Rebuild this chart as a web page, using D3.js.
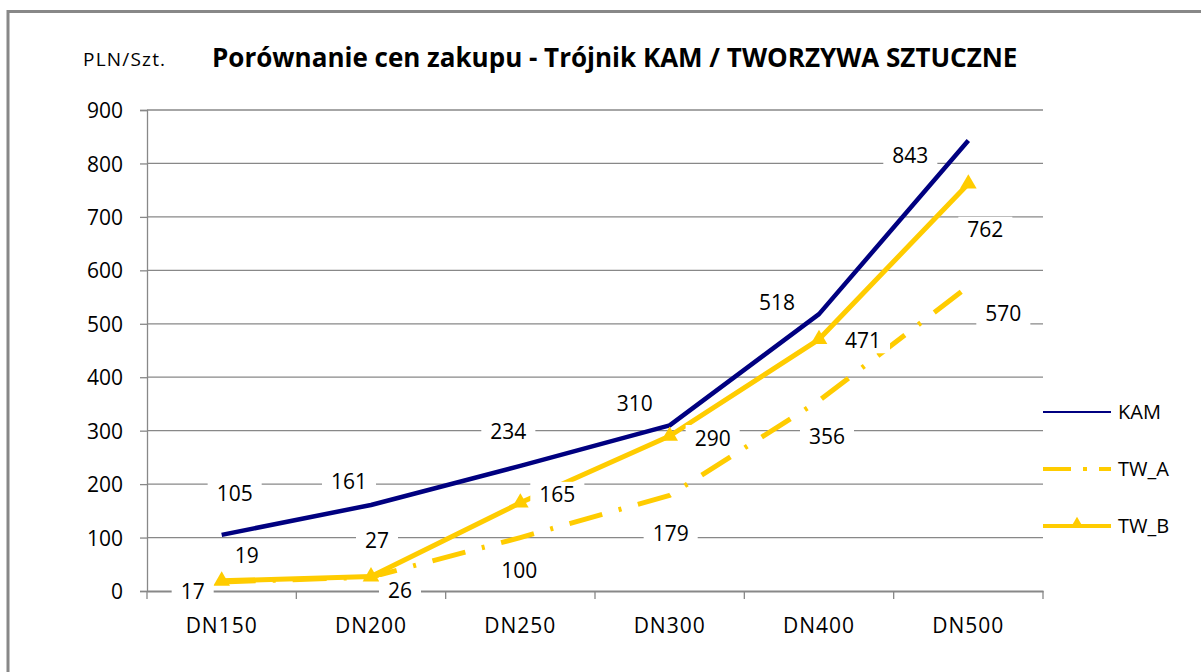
<!DOCTYPE html>
<html lang="pl">
<head>
  <meta charset="UTF-8">
  <title>Porównanie cen zakupu - Trójnik KAM / TWORZYWA SZTUCZNE</title>
  <style>
    body { margin: 0; background: #fff; }
    svg text { font-family: "Open Sans", sans-serif; fill: #000; }
    .grid line { stroke: #888; stroke-width: 1.3px; }
  </style>
</head>
<body>
<div id="chart"></div>
<script src="https://d3js.org/d3.v7.min.js"></script>
<script>
  // dane
  const categories = ["DN150", "DN200", "DN250", "DN300", "DN400", "DN500"];
  const kam  = [105, 161, 234, 310, 518, 843];
  const twA  = [17, 26, 100, 179, 356, 570];
  const twB  = [19, 27, 165, 290, 471, 762];
  const yTicks = [0, 100, 200, 300, 400, 500, 600, 700, 800, 900];

  // przesunięcia etykiet danych względem punktów (px)
  const labelOffsets = {
    KAM:  [[13, -41], [-22, -24], [-12, -35], [-35, -22], [-42, -12], [-58, 15]],
    TW_A: [[-29, 10], [29, 13], [-1, 33], [1, 38], [8, 36], [35, 27]],
    TW_B: [[25, -25], [6, -36], [37, -8], [43, 2], [44, 1], [17, 46]]
  };

  const width = 1201, height = 672;
  const series = [
    { name: "KAM",  values: kam, color: "#000080", width: 4.5, dash: null, marker: false },
    { name: "TW_A", values: twA, color: "#FFCC00", width: 5, dash: "34 17 3 17", marker: false },
    { name: "TW_B", values: twB, color: "#FFCC00", width: 5, dash: null, marker: true }
  ];

  const svg = d3.select("#chart").append("svg")
      .attr("width", width)
      .attr("height", height);

  // ramka wykresu
  svg.append("rect")
      .attr("x", 8).attr("y", 11.5)
      .attr("width", 1250).attr("height", 700)
      .attr("fill", "#fff")
      .attr("stroke", "#888")
      .attr("stroke-width", 3);

  const x = d3.scaleBand().domain(categories).range([147, 1043]);
  const y = d3.scaleLinear().domain([0, 900]).range([591, 110]);
  const cx = c => x(c) + x.bandwidth() / 2;

  // siatka
  svg.append("g").attr("class", "grid")
    .selectAll("line").data(yTicks.filter(d => d > 0)).join("line")
      .attr("x1", 147).attr("x2", 1043)
      .attr("y1", d => y(d)).attr("y2", d => y(d));

  // oś Y
  const yAxis = svg.append("g")
      .attr("transform", "translate(147,0)")
      .call(d3.axisLeft(y).tickValues(yTicks).tickSize(7).tickPadding(17));
  yAxis.select(".domain").attr("stroke", "#888").attr("stroke-width", 1.3);
  yAxis.selectAll(".tick line").attr("stroke", "#888").attr("stroke-width", 1.3);
  yAxis.selectAll("text").style("font-size", "21px").attr("dy", "0.36em");

  // oś X
  const xAxis = svg.append("g")
      .attr("transform", "translate(0,591)")
      .call(d3.axisBottom(x).tickSize(0).tickPadding(27));
  xAxis.select(".domain").attr("stroke", "#888").attr("stroke-width", 2);
  xAxis.selectAll("text").style("font-size", "21px").style("letter-spacing", "1px");
  xAxis.selectAll(".sep").data(categories.concat([null])).join("line")
      .attr("class", "sep")
      .attr("x1", (d, i) => i < categories.length ? x(d) : x.range()[1])
      .attr("x2", (d, i) => i < categories.length ? x(d) : x.range()[1])
      .attr("y1", 0).attr("y2", 8)
      .attr("stroke", "#888").attr("stroke-width", 1.3);

  // linie serii
  const line = d3.line()
      .x((d, i) => cx(categories[i]))
      .y(d => y(d));

  const tri = d3.symbol().type(d3.symbolTriangle).size(120);

  series.forEach(s => {
    svg.append("path")
        .datum(s.values)
        .attr("d", line)
        .attr("fill", "none")
        .attr("stroke", s.color)
        .attr("stroke-width", s.width)
        .attr("stroke-dasharray", s.dash)
        .attr("stroke-linejoin", "round");
    if (s.marker) {
      svg.selectAll(".m-" + s.name).data(s.values).join("path")
          .attr("class", "m-" + s.name)
          .attr("d", tri)
          .attr("transform", (d, i) => `translate(${cx(categories[i])},${y(d)})`)
          .attr("fill", s.color);
    }
  });

  // etykiety danych (białe tło)
  series.forEach(s => {
    s.values.forEach((v, i) => {
      const off = labelOffsets[s.name][i];
      const g = svg.append("g")
          .attr("transform", `translate(${cx(categories[i]) + off[0]},${y(v) + off[1]})`);
      const r = g.append("rect").attr("fill", "#fff");
      const t = g.append("text")
          .attr("text-anchor", "middle")
          .attr("dy", "0.36em")
          .style("font-size", "21px")
          .text(v);
      const bb = t.node().getBBox();
      r.attr("x", bb.x - 9).attr("y", -13)
       .attr("width", bb.width + 18).attr("height", 26);
    });
  });

  // tytuł
  svg.append("text")
      .attr("x", 83).attr("y", 66)
      .style("font-size", "19px")
      .style("letter-spacing", "1.2px")
      .text("PLN/Szt.");
  svg.append("text")
      .attr("x", 212).attr("y", 67)
      .style("font-size", "26px")
      .style("font-weight", "bold")
      .text("Porównanie cen zakupu - Trójnik KAM / TWORZYWA SZTUCZNE");

  // legenda
  const legend = svg.append("g").attr("transform", "translate(1043,0)");
  const legendY = [412, 469, 526];
  series.forEach((s, i) => {
    legend.append("line")
        .attr("x1", 0).attr("x2", 68)
        .attr("y1", legendY[i]).attr("y2", legendY[i])
        .attr("stroke", s.color)
        .attr("stroke-width", s.name === "KAM" ? 2 : 4)
        .attr("stroke-dasharray", s.dash ? "28 12 4 12" : null);
    if (s.marker) {
      legend.append("path")
          .attr("d", d3.symbol().type(d3.symbolTriangle).size(70))
          .attr("transform", `translate(34,${legendY[i] - 2})`)
          .attr("fill", s.color);
    }
    legend.append("text")
        .attr("x", 75).attr("y", legendY[i])
        .attr("dy", "0.36em")
        .style("font-size", "20px")
        .text(s.name);
  });
</script>
</body>
</html>
